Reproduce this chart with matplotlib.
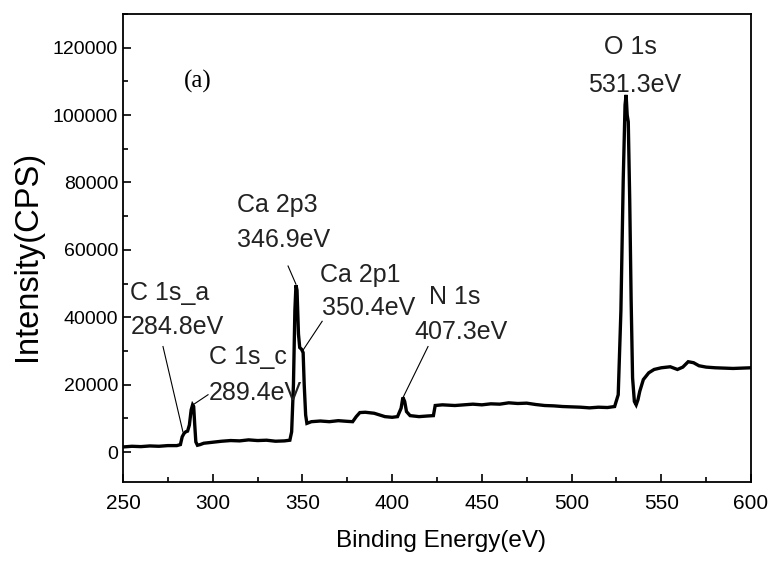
import matplotlib.pyplot as plt
from matplotlib.ticker import MultipleLocator

# XPS survey spectrum
energy = [250, 255, 260, 265, 270, 275, 280, 282, 283, 284, 285, 286, 287, 288, 288.8, 289.4,
          290, 290.6, 291.5, 293, 295, 300, 305, 310, 315, 320, 325, 330, 335, 340, 343,
          344, 345, 345.8, 346.4, 347, 347.8, 348.5, 349.5, 350.4, 351, 351.8, 352.5,
          355, 360, 365, 370, 375, 378, 380, 382, 385, 390, 393, 396, 400, 403,
          405, 406, 407, 408, 410, 415, 420, 423, 424, 428, 435, 440, 445, 450, 455,
          460, 465, 470, 475, 480, 485, 490, 495, 500, 505, 510, 515, 520, 524,
          526, 527.5, 528.8, 529.8, 530.4, 531, 531.6, 532.4, 533.2, 534, 535, 536,
          537, 538, 540, 543, 546, 550, 555, 559, 562, 565, 568, 571, 575, 580,
          585, 590, 595, 600]
intensity = [1500, 1700, 1600, 1800, 1700, 1900, 1900, 2200, 4500, 5500, 6000, 6200, 8000, 12500, 14000, 13500,
             8000, 3000, 2000, 2200, 2600, 2900, 3200, 3400, 3300, 3600, 3400, 3500, 3200, 3300, 3500,
             6000, 20000, 42000, 49500, 48000, 35000, 31000, 30500, 29500, 20000, 11000, 8500,
             9000, 9200, 9000, 9300, 9100, 9000, 10500, 11700, 11800, 11500, 11000, 10500, 10300, 10500,
             13000, 16200, 15000, 12000, 10800, 10500, 10700, 10800, 13800, 14000, 13800, 14000, 14200, 14000, 14300,
             14200, 14600, 14400, 14500, 14100, 13800, 13700, 13500, 13400, 13300, 13100, 13300, 13200, 13500,
             17000, 42000, 81000, 103000, 106000, 100000, 98000, 75000, 45000, 22000, 15000, 14000,
             15500, 18000, 21500, 23500, 24500, 25000, 25300, 24500, 25200, 26800, 26500, 25600, 25200, 25000,
             24900, 24800, 24900, 25000]

# peak labels: name, energy text, label position, leader line (from, to)
peak_names = ["C 1s_a", "C 1s_c", "Ca 2p3", "Ca 2p1", "N 1s", "O 1s"]
peak_energies = ["284.8eV", "289.4eV", "346.9eV", "350.4eV", "407.3eV", "531.3eV"]
name_xy = [(276.2, 47200), (319.7, 28200), (335.8, 73400), (382.1, 52600), (435.1, 46000), (532.6, 120300)]
energy_xy = [(280.1, 37100), (323.6, 17500), (339.7, 63000), (387.1, 42800), (438.4, 35600), (535.4, 109000)]
leaders = [((272.3, 31300), (283.4, 6000)),
           ((297.4, 17000), (289.0, 14000)),
           ((342.0, 55200), (346.4, 49800)),
           ((361.0, 38800), (349.8, 29800)),
           ((420.0, 31300), (406.0, 16100)),
           None]

sans = ['Liberation Sans', 'DejaVu Sans']

fig = plt.figure(figsize=(7.72, 5.70), dpi=100)
ax = fig.add_axes([0.1593, 0.1544, 0.8135, 0.821])

ax.plot(energy, intensity, color='black', lw=2.4, solid_joinstyle='miter')

for name, ev, p1, p2, ld in zip(peak_names, peak_energies, name_xy, energy_xy, leaders):
    ax.text(p1[0], p1[1], name, ha='center', va='center', fontsize=18, family=sans, color='#222222')
    ax.text(p2[0], p2[1], ev, ha='center', va='center', fontsize=18, family=sans, color='#222222')
    if ld is not None:
        ax.plot([ld[0][0], ld[1][0]], [ld[0][1], ld[1][1]], color='black', lw=0.8)

ax.text(291.8, 109900, "(a)", ha='center', va='center', fontsize=18, family=['Liberation Serif', 'DejaVu Serif'])

ax.set_xlim(250, 600)
ax.set_ylim(-8900, 130000)
ax.xaxis.set_major_locator(MultipleLocator(50))
ax.xaxis.set_minor_locator(MultipleLocator(25))
ax.yaxis.set_major_locator(MultipleLocator(20000))
ax.yaxis.set_minor_locator(MultipleLocator(10000))
ax.tick_params(which='both', direction='in', top=False, right=False, width=1.2)
ax.tick_params(which='major', length=6)
ax.tick_params(which='minor', length=3.5)
ax.tick_params(axis='x', pad=9)
for sp in ax.spines.values():
    sp.set_linewidth(1.3)

for lbl in ax.get_xticklabels():
    lbl.set_family(sans)
    lbl.set_fontsize(15)
for lbl in ax.get_yticklabels():
    lbl.set_family(sans)
    lbl.set_fontsize(14)

ax.set_xlabel("Binding Energy(eV)", fontsize=17.5, family=sans)
ax.set_ylabel("Intensity(CPS)", fontsize=23.5, family=sans)
ax.xaxis.set_label_coords(0.506, -0.103)
ax.yaxis.set_label_coords(-0.128, 0.483)

fig.savefig("out.png", dpi=100)
